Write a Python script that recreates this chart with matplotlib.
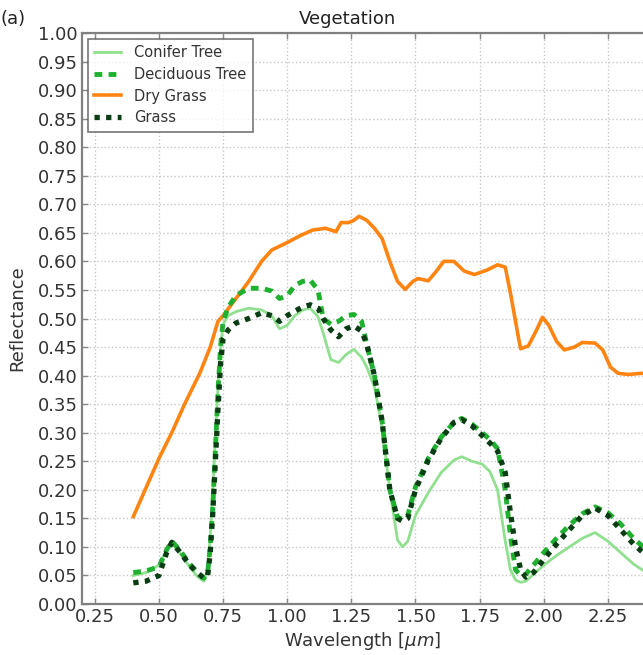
import matplotlib
matplotlib.use("Agg")
import matplotlib.pyplot as plt
import numpy as np

# ---------------- data ----------------
green_wl = [0.40, 0.45, 0.50, 0.53, 0.55, 0.58, 0.62, 0.65, 0.675, 0.69, 0.70, 0.71, 0.72, 0.73, 0.74,
            0.75, 0.77, 0.80, 0.85, 0.90, 0.94, 0.97, 1.00, 1.03, 1.06, 1.09, 1.12, 1.14, 1.17, 1.20,
            1.23, 1.26, 1.29, 1.31, 1.34, 1.37, 1.40, 1.43, 1.45, 1.47, 1.50, 1.55, 1.60, 1.65, 1.68,
            1.72, 1.76, 1.79, 1.82, 1.85, 1.87, 1.89, 1.91, 1.93, 1.96, 2.00, 2.05, 2.10, 2.15, 2.20,
            2.25, 2.30, 2.35, 2.40, 2.45]

conifer = [0.050, 0.055, 0.068, 0.095, 0.107, 0.090, 0.065, 0.048, 0.040, 0.060, 0.120, 0.200, 0.290, 0.380, 0.450,
           0.490, 0.505, 0.512, 0.518, 0.515, 0.505, 0.482, 0.488, 0.505, 0.515, 0.518, 0.503, 0.475, 0.428, 0.423,
           0.437, 0.446, 0.432, 0.415, 0.380, 0.310, 0.200, 0.112, 0.100, 0.110, 0.155, 0.195, 0.230, 0.252, 0.258,
           0.250, 0.245, 0.232, 0.200, 0.110, 0.060, 0.042, 0.038, 0.040, 0.052, 0.068, 0.085, 0.100, 0.115, 0.125,
           0.110, 0.090, 0.070, 0.055, 0.045]

deciduous = [0.055, 0.058, 0.065, 0.095, 0.110, 0.095, 0.070, 0.055, 0.045, 0.055, 0.100, 0.170, 0.270, 0.370, 0.450,
             0.495, 0.520, 0.540, 0.553, 0.553, 0.548, 0.535, 0.540, 0.558, 0.565, 0.567, 0.550, 0.500, 0.490, 0.495,
             0.505, 0.507, 0.495, 0.455, 0.400, 0.320, 0.200, 0.152, 0.148, 0.155, 0.205, 0.255, 0.292, 0.318, 0.325,
             0.315, 0.300, 0.288, 0.272, 0.200, 0.120, 0.060, 0.050, 0.052, 0.068, 0.090, 0.115, 0.138, 0.158, 0.170,
             0.160, 0.140, 0.115, 0.095, 0.080]

grass = [0.037, 0.040, 0.050, 0.090, 0.108, 0.092, 0.068, 0.055, 0.045, 0.050, 0.090, 0.160, 0.250, 0.340, 0.420,
         0.465, 0.480, 0.492, 0.500, 0.510, 0.505, 0.495, 0.505, 0.513, 0.520, 0.524, 0.518, 0.500, 0.480, 0.468,
         0.482, 0.487, 0.478, 0.455, 0.400, 0.320, 0.200, 0.150, 0.145, 0.150, 0.200, 0.252, 0.290, 0.318, 0.323,
         0.312, 0.295, 0.282, 0.268, 0.230, 0.160, 0.100, 0.060, 0.047, 0.055, 0.078, 0.105, 0.130, 0.155, 0.168,
         0.155, 0.130, 0.105, 0.085, 0.070]

dry_wl = [0.40, 0.50, 0.55, 0.60, 0.66, 0.70, 0.73, 0.75, 0.80, 0.85, 0.90, 0.94, 1.00, 1.05, 1.10, 1.15, 1.19,
          1.21, 1.24, 1.26, 1.28, 1.31, 1.34, 1.37, 1.40, 1.43, 1.46, 1.49, 1.51, 1.55, 1.58, 1.61, 1.65, 1.69,
          1.73, 1.78, 1.82, 1.85, 1.87, 1.89, 1.90, 1.91, 1.94, 1.97, 1.995, 2.02, 2.05, 2.08, 2.12, 2.15, 2.20,
          2.23, 2.26, 2.29, 2.33, 2.38, 2.45]
dry_grass = [0.153, 0.255, 0.300, 0.350, 0.405, 0.450, 0.495, 0.505, 0.535, 0.565, 0.600, 0.620, 0.633, 0.645,
             0.655, 0.658, 0.652, 0.668, 0.668, 0.672, 0.679, 0.672, 0.658, 0.640, 0.600, 0.565, 0.551, 0.565,
             0.570, 0.566, 0.582, 0.600, 0.600, 0.583, 0.577, 0.585, 0.594, 0.590, 0.545, 0.495, 0.470, 0.447,
             0.452, 0.478, 0.502, 0.488, 0.460, 0.445, 0.450, 0.458, 0.457, 0.445, 0.415, 0.404, 0.402, 0.404, 0.402]

x_ticks = [0.25, 0.50, 0.75, 1.00, 1.25, 1.50, 1.75, 2.00, 2.25]
y_ticks = [round(0.05 * i, 2) for i in range(21)]

# ---------------- figure ----------------
W, H = 643, 655
fig = plt.figure(figsize=(W / 100, H / 100), dpi=100)
ax_left, ax_right, ax_top, ax_bottom = 82, 672, 33, 604
ax = fig.add_axes([ax_left / W, (H - ax_bottom) / H, (ax_right - ax_left) / W, (ax_bottom - ax_top) / H])

txt = '#333333'
ax.plot(green_wl, conifer, color='#90e090', lw=2.0, label='Conifer Tree', zorder=3)
ax.plot(green_wl, deciduous, color='#1fb02f', lw=3.5, linestyle=(0, (1.6, 1.3)), label='Deciduous Tree', zorder=4)
ax.plot(dry_wl, dry_grass, color='#ff8412', lw=2.6, label='Dry Grass', zorder=3)
ax.plot(green_wl, grass, color='#0b3d14', lw=3.8, linestyle=(0, (1.0, 1.2)), label='Grass', zorder=5)

ax.set_xlim(0.2, 2.5)
ax.set_ylim(0.0, 1.0)
ax.set_xticks(x_ticks)
ax.set_xticklabels([f'{v:.2f}' for v in x_ticks])
ax.set_yticks(y_ticks)
ax.set_yticklabels([f'{v:.2f}' for v in y_ticks])
ax.tick_params(direction='in', top=True, right=True, length=4, width=1, colors='#888888',
               labelcolor=txt, labelsize=13, pad=3)
ax.grid(True, linestyle=':', color='#c8c8c8', lw=1.0)
ax.set_axisbelow(True)
for s in ax.spines.values():
    s.set_color('#808080')
    s.set_linewidth(1.6)

ax.set_xlabel(r'Wavelength [$\mu m$]', fontsize=13, color=txt)
ax.xaxis.set_label_coords((363 - ax_left) / (ax_right - ax_left), -0.045)
ax.set_ylabel('Reflectance', fontsize=13, color=txt)
ax.yaxis.set_label_coords(-0.095, 0.5)

fig.text(347 / W, 1 - 19 / H, 'Vegetation', ha='center', va='center', fontsize=13, color='#222222')
fig.text(0.0, 1 - 19 / H, '(a)', ha='left', va='center', fontsize=13, color='#222222')

leg = ax.legend(loc='upper left', fontsize=10.5, frameon=True, fancybox=False, borderaxespad=0.4,
                handlelength=1.8, handletextpad=0.9, labelspacing=0.45, borderpad=0.45)
leg.get_frame().set_edgecolor('#555555')
leg.get_frame().set_linewidth(1.2)
for t in leg.get_texts():
    t.set_color(txt)

fig.savefig('out.png', dpi=100)
